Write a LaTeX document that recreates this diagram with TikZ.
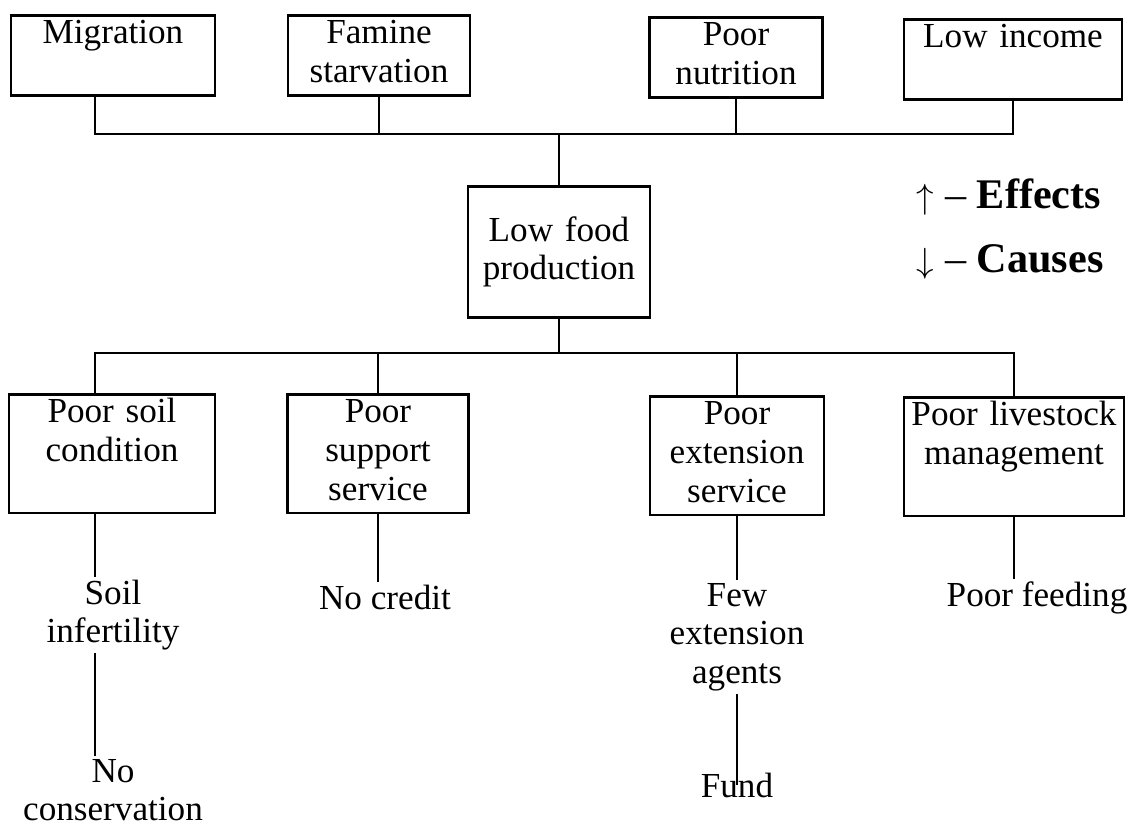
\documentclass[tikz,border=0pt]{standalone}
\usepackage{fontspec}
\setmainfont{Liberation Serif}
\usepackage{tikz}
\usetikzlibrary{calc}

\newcommand{\diafont}{\fontsize{25}{27.5}\selectfont}
\newcommand{\legfont}{\fontsize{30}{32}\selectfont}

\begin{document}
\begin{tikzpicture}[x=0.025cm, y=-0.025cm,
    every node/.style={font=\diafont},
    box/.style={draw, line width=1.8pt, anchor=north, align=center, inner xsep=0pt, inner ysep=1pt},
    txt/.style={align=center, inner sep=2pt},
    link/.style={line width=1.8pt}]
    \useasboundingbox (0,0) rectangle (1128,834);
    % effects
    \node[box, text width=5.1cm](mig)at(113,14){\strut Migration\\\strut};
    \node[box, text width=4.55cm](fam)at(379,14){\strut Famine\\\strut starvation};
    \node[box, text width=4.325cm](nut)at(736,16){\strut Poor\\\strut nutrition};
    \node[box, text width=5.45cm](inc)at(1013,18){\strut Low income\\\strut};
    % problem
    \node[box, text width=4.55cm, minimum height=3.275cm](food)at(559,185){Low food\\production};
    % causes
    \node[box, text width=5.15cm](soil)at(112,393){\strut Poor soil\\condition\\\strut};
    \node[box, text width=4.525cm](sup)at(378,393){\strut Poor\\support\\service\strut};
    \node[box, text width=4.35cm](ext)at(737,395){\strut Poor\\extension\\service\strut};
    \node[box, text width=5.5cm](liv)at(1014,396){\strut Poor livestock\\management\\\strut};
    \node[txt](infert)at(113,615){Soil\\infertility};
    \node[txt](nocons)at(113,790){No\\conservation};
    \node[txt](credit)at(385,597){No credit};
    \node[txt](agents)at(737,637){Few\\extension\\agents};
    \node[txt](fund)at(737,785){Fund};
    \node[txt](feed)at(1037,598){Poor feeding};
    % key
    \node[anchor=west, font=\legfont](eff)at(912,197){$\uparrow$ -- \textbf{Effects}};
    \node[anchor=west, font=\legfont](cau)at(912,262){$\downarrow$ -- \textbf{Causes}};
    % links
    \coordinate(up)at(564,134);
    \coordinate(dn)at(564,353);
    \coordinate(m1)at($(mig.south)+(-18,0)$);
    \coordinate(s1)at($(soil.north)+(-17,0)$);
    \coordinate(s2)at($(soil.south)+(-17,0)$);
    \path[draw, link](m1)|-(inc.south |- up)to(inc.south);
    \path[draw, link](fam.south)to(fam.south |- up);
    \path[draw, link](nut.south)to(nut.south |- up);
    \path[draw, link](food.north)to(food.north |- up);
    \path[draw, link](s1)|-(liv.north |- dn)to(liv.north);
    \path[draw, link](sup.north)to(sup.north |- dn);
    \path[draw, link](ext.north)to(ext.north |- dn);
    \path[draw, link](food.south)to(food.south |- dn);
    % sub causes
    \path[draw, link](s2)to(s2 |- infert.north);
    \path[draw, link](s2 |- infert.south)to(s2 |- nocons.north);
    \path[draw, link](sup.south)to(sup.south |- credit.north);
    \path[draw, link](ext.south)to(ext.south |- agents.north);
    \path[draw, link](agents.south)to(agents.south |- fund.center);
    \path[draw, link](liv.south)to(liv.south |- feed.north);
\end{tikzpicture}
\end{document}
